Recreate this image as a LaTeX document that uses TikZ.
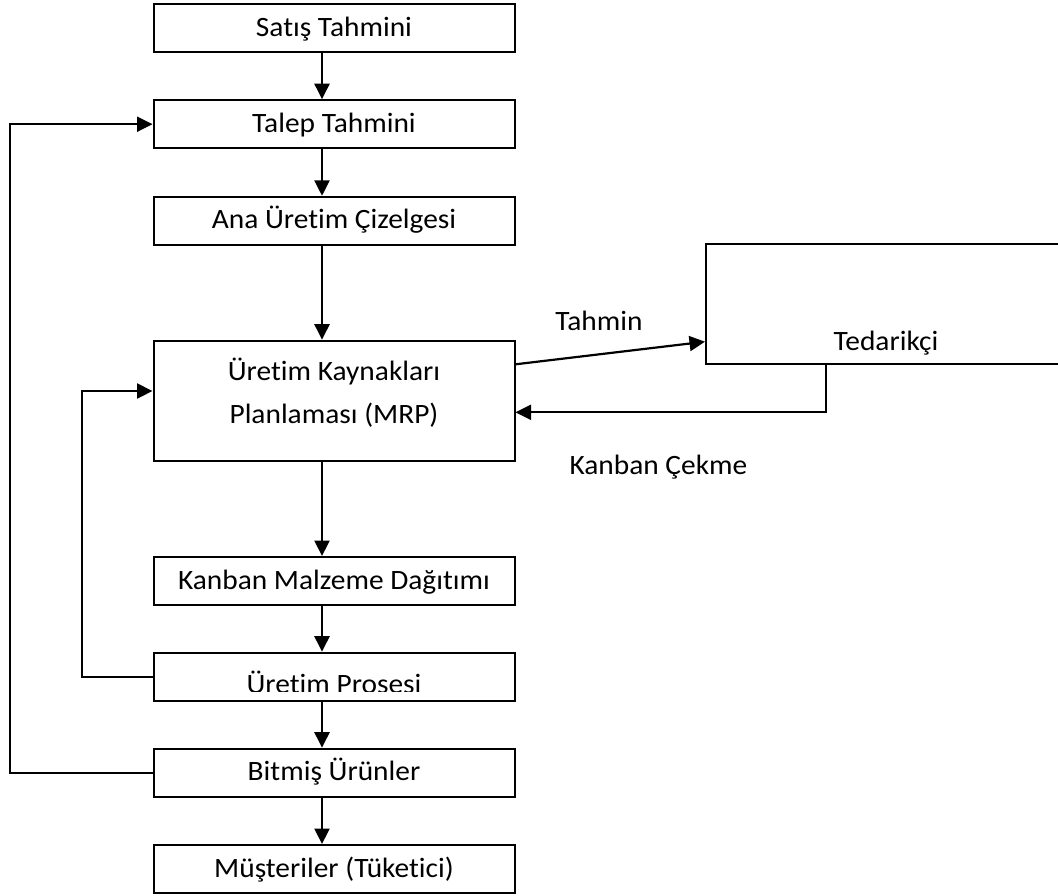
\documentclass[tikz,border=0pt]{standalone}
\usepackage{graphicx}
\usepackage{fontspec}
\setmainfont{Carlito}[Ligatures={NoCommon}]
\usetikzlibrary{arrows.meta}
% slightly widened lettering used throughout the chart
\newcommand{\wtxt}[1]{\scalebox{1.05}[1]{#1}}
\begin{document}
\begin{tikzpicture}[x=1pt,y=-1pt,
  txt/.style={font=\fontsize{28}{33}\selectfont},
  box/.style={draw, line width=2pt, minimum width=361pt, minimum height=48pt,
    inner sep=0pt, text height=19pt, text depth=3pt, txt},
  lbl/.style={txt, inner sep=0pt, anchor=base},
  conn/.style={line width=2.2pt},
  arr/.style={conn, -{Triangle[length=15.5pt,width=15pt]}}]
\clip (0,0) rectangle (1058,895);

% main chain of boxes
\node[box] (sat) at (334,28.2)  {\wtxt{Satış Tahmini}};
\node[box] (tal) at (334,124.2) {\wtxt{Talep Tahmini}};
\node[box] (ana) at (334,220.8) {\wtxt{Ana Üretim Çizelgesi}};
\node[box, minimum height=120pt] (mrp) at (334,400.7) {};
\node[lbl] (mrp1) at (334,380) {\wtxt{Üretim Kaynakları}};
\node[lbl] (mrp2) at (334,423.3) {\wtxt{Planlaması (MRP)}};
\node[box] (kan) at (334,581)   {\wtxt{Kanban Malzeme Dağıtımı}};
\node[box] (ure) at (334,676.7) {};
\begin{scope}
  \clip (ure.north west) rectangle (514,691.7);
  \node[lbl] (uretxt) at (334,693.2) {\wtxt{Üretim Prosesi}};
\end{scope}
\node[box] (bit) at (334,772.7) {\wtxt{Bitmiş Ürünler}};
\node[box] (mus) at (334,869)   {\wtxt{Müşteriler (Tüketici)}};

% supplier box, running off the right edge
\node[draw, line width=2pt, minimum width=360pt, minimum height=120pt, inner sep=0pt]
  (ted) at (886,304.3) {};
\node[lbl] (tedtxt) at (886,350.7) {\wtxt{Tedarikçi}};

% connector labels
\node[lbl] (tahmin) at (599,330) {\wtxt{Tahmin}};
\node[lbl] (kanban) at (658.4,474) {\wtxt{Kanban Çekme}};

% helper positions
\coordinate (ax)  at (322,0);
\coordinate (lx1) at (9.6,0);
\coordinate (lx2) at (81.6,0);
\coordinate (kx)  at (826.3,0);
\coordinate (yTa) at (0,364.3);
\coordinate (yTb) at (0,341.7);
\coordinate (yKb) at (0,412.3);
\coordinate (yIn) at (0,391);

% downward flow
\draw[arr] (sat.south -| ax) -- (tal.north -| ax);
\draw[arr] (tal.south -| ax) -- (ana.north -| ax);
\draw[arr] (ana.south -| ax) -- (mrp.north -| ax);
\draw[arr] (mrp.south -| ax) -- (kan.north -| ax);
\draw[arr] (kan.south -| ax) -- (ure.north -| ax);
\draw[arr] (ure.south -| ax) -- (bit.north -| ax);
\draw[arr] (bit.south -| ax) -- (mus.north -| ax);

% supplier links
\draw[arr] (mrp.east |- yTa) -- (ted.west |- yTb);
\draw[arr] (ted.south -| kx) |- (mrp.east |- yKb);

% feedback loops
\draw[arr] (bit.west) -- (lx1 |- bit.west) -- (lx1 |- tal.west) -- (tal.west);
\draw[arr] (ure.west) -- (lx2 |- ure.west) -- (lx2 |- yIn) -- (mrp.west |- yIn);
\end{tikzpicture}
\end{document}
